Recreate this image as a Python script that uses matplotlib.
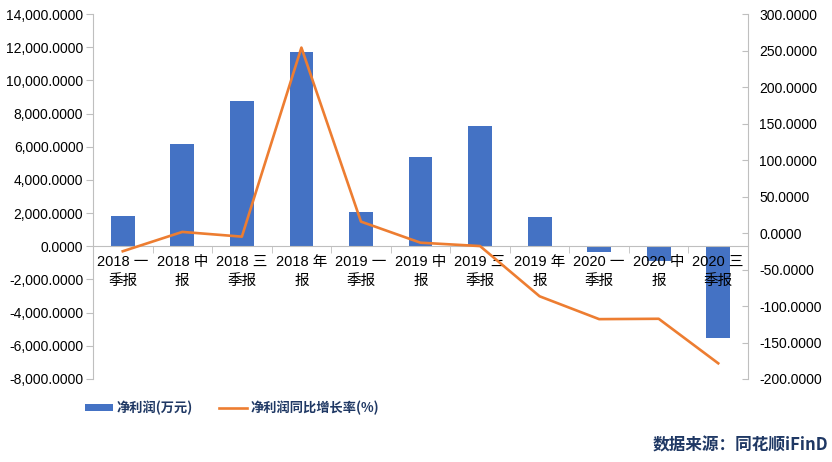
import matplotlib
matplotlib.use("Agg")
import matplotlib.pyplot as plt
from matplotlib.patches import Patch
from matplotlib.lines import Line2D
from matplotlib.ticker import FuncFormatter, FixedLocator
import numpy as np

plt.rcParams['font.family'] = ['Liberation Sans', 'Noto Sans CJK SC', 'DejaVu Sans']

categories = ["2018 一\n季报", "2018 中\n报", "2018 三\n季报", "2018 年\n报",
              "2019 一\n季报", "2019 中\n报", "2019 三\n季报", "2019 年\n报",
              "2020 一\n季报", "2020 中\n报", "2020 三\n季报"]
net_profit = [1810, 6140, 8750, 11690, 2070, 5410, 7260, 1790, -360, -890, -5510]
growth = [-25.0, 1.5, -5.0, 254.0, 15.6, -13.3, -17.9, -86.7, -118.0, -117.5, -178.5]
left_ticks = [-8000, -6000, -4000, -2000, 0, 2000, 4000, 6000, 8000, 10000, 12000, 14000]
right_ticks = [-200, -150, -100, -50, 0, 50, 100, 150, 200, 250, 300]

bar_color = '#4472C4'
line_color = '#ED7D31'
axis_color = '#BFBFBF'
navy = '#1F3864'

fig = plt.figure(figsize=(8.32, 4.62), dpi=100)
ax = fig.add_axes([93/832, 1-379/462, (748-93)/832, (379-14)/462])
x = np.arange(len(categories))
ax.bar(x, net_profit, width=0.4, color=bar_color, zorder=2)
ax.set_axisbelow(False)
ax.set_xlim(-0.5, len(categories)-0.5)
ax.set_ylim(-8000, 14000)
ax.set_yticks(left_ticks)
ax.yaxis.set_major_formatter(FuncFormatter(lambda v, p: f"{v:,.4f}"))
ax.tick_params(axis='y', direction='out', length=5, color=axis_color,
               labelsize=10, labelcolor='#000000', pad=2)
ax.spines['top'].set_visible(False)
ax.spines['right'].set_visible(False)
ax.spines['left'].set_color(axis_color)
ax.spines['bottom'].set_color(axis_color)
ax.spines['bottom'].set_position(('data', 0))
ax.set_xticks(x)
ax.set_xticklabels(categories, fontsize=10.5, linespacing=1.5)
ax.tick_params(axis='x', length=0, pad=6)
ax.xaxis.set_minor_locator(FixedLocator(np.arange(-0.5, len(categories), 1.0)))
ax.tick_params(axis='x', which='minor', length=5, direction='out', color=axis_color)

ax2 = ax.twinx()
ax2.plot(x, growth, color=line_color, linewidth=1.9, zorder=3)
ax2.set_ylim(-200, 300)
ax2.set_yticks(right_ticks)
ax2.yaxis.set_major_formatter(FuncFormatter(lambda v, p: f"{v:.4f}"))
ax2.tick_params(axis='y', direction='in', length=4, color=axis_color,
                labelsize=10, labelcolor='#000000', pad=8)
ax2.spines['top'].set_visible(False)
ax2.spines['left'].set_visible(False)
ax2.spines['bottom'].set_visible(False)
ax2.spines['right'].set_color(axis_color)

handles = [Patch(facecolor=bar_color, edgecolor='none'),
           Line2D([0], [0], color=line_color, linewidth=1.9)]
labels = ["净利润(万元)", "净利润同比增长率(%)"]
leg = fig.legend(handles, labels, loc='center left',
                 bbox_to_anchor=(73/832, 1-408/462), ncol=2, frameon=False,
                 handlelength=2.1, handleheight=0.5, handletextpad=0.3,
                 columnspacing=2.0, prop={'size': 9.5, 'weight': 'bold',
                                          'family': ['Noto Sans CJK SC', 'DejaVu Sans']})
for t in leg.get_texts():
    t.set_color(navy)

fig.text(828/832, 1-445/462, "数据来源：同花顺iFinD", ha='right', va='center',
         fontsize=12, fontweight='bold', color=navy,
         family=['Noto Sans CJK SC', 'DejaVu Sans'])

fig.savefig("out.png", dpi=100)
